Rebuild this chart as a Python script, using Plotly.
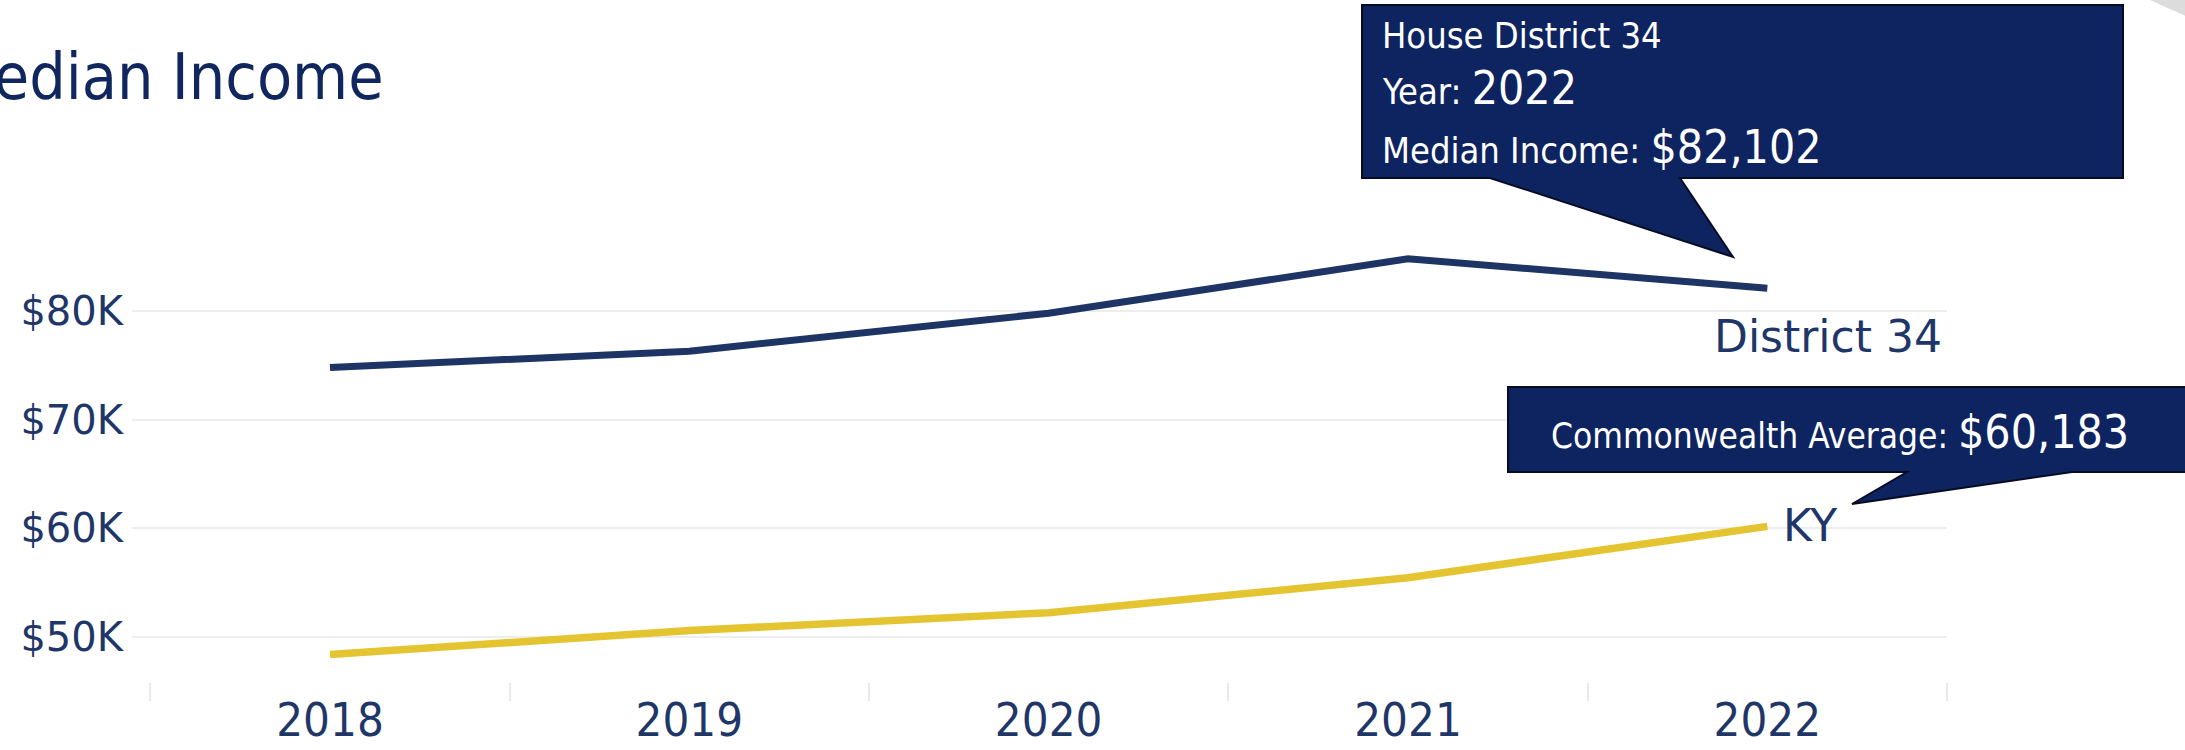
import plotly.graph_objects as go

# ---------------- data ----------------
years = ["2018", "2019", "2020", "2021", "2022"]
district_income = [74800, 76300, 79800, 84800, 82102]
ky_income = [48392, 50589, 52238, 55454, 60183]
y_tick_vals = [50000, 60000, 70000, 80000]
y_tick_text = ["$50K", "$60K", "$70K", "$80K"]
series_labels = ["District 34", "KY"]
title_text = "Median Income"
tooltip_district = ["House District 34", "Year: ", "2022", "Median Income: ", "$82,102"]
tooltip_ky = ["Commonwealth Average: ", "$60,183"]

# ---------------- layout geometry (pixels) ----------------
FIG_W, FIG_H = 2185, 750
L, R, T, B = 132, 1947, 100, 682
W, H = R - L, B - T

def px(x):
    return (x - L) / W

def py(y):
    return (B - y) / H

NAVY_LINE = "#1d3465"
YELLOW = "#e4c531"
TEXT_NAVY = "#1f3668"
TITLE_NAVY = "#10265f"
TIP_FILL = "#0e2461"
TIP_BORDER = "#070c22"
COND = "DejaVu Sans Condensed, DejaVu Sans, sans-serif"
REG = "DejaVu Sans, sans-serif"

fig = go.Figure()
fig.add_trace(go.Scatter(x=years, y=district_income, mode="lines",
                         line=dict(color=NAVY_LINE, width=7), hoverinfo="skip"))
fig.add_trace(go.Scatter(x=years, y=ky_income, mode="lines",
                         line=dict(color=YELLOW, width=7.5), hoverinfo="skip"))

def path(points):
    s = "M " + " L ".join(f"{px(x):.5f},{py(y):.5f}" for x, y in points) + " Z"
    return s

tip1 = [(1362, 5), (2123, 5), (2123, 178), (1680, 178), (1733, 257),
        (1490, 178), (1362, 178)]
tip2 = [(1508, 387), (2195, 387), (2195, 472), (2072, 472), (1852, 504),
        (1907, 472), (1508, 472)]
corner = [(2150, 0), (2190, 0), (2190, 18)]

shapes = [
    dict(type="path", xref="paper", yref="paper", path=path(tip1),
         fillcolor=TIP_FILL, line=dict(color=TIP_BORDER, width=2), layer="above"),
    dict(type="path", xref="paper", yref="paper", path=path(tip2),
         fillcolor=TIP_FILL, line=dict(color=TIP_BORDER, width=2), layer="above"),
    dict(type="path", xref="paper", yref="paper", path=path(corner),
         fillcolor="#dcdcdc", line=dict(width=0), layer="above"),
]

annotations = [
    dict(text=title_text, xref="paper", yref="paper", x=px(386), y=py(77),
         xanchor="right", yanchor="middle", showarrow=False,
         font=dict(family=COND, size=64, color=TITLE_NAVY)),
    dict(text=series_labels[0], xref="paper", yref="paper", x=px(1944), y=py(336),
         xanchor="right", yanchor="middle", showarrow=False,
         font=dict(family=REG, size=44, color=TEXT_NAVY)),
    dict(text=series_labels[1], xref="paper", yref="paper", x=px(1781), y=py(525),
         xanchor="left", yanchor="middle", showarrow=False,
         font=dict(family=REG, size=44, color=TEXT_NAVY)),
    dict(text=tooltip_district[0], xref="paper", yref="paper", x=px(1380), y=py(36),
         xanchor="left", yanchor="middle", showarrow=False,
         font=dict(family=COND, size=36, color="white")),
    dict(text=f"{tooltip_district[1]}<span style='font-size:46px'>{tooltip_district[2]}</span>",
         xref="paper", yref="paper", x=px(1380), y=py(88),
         xanchor="left", yanchor="middle", showarrow=False,
         font=dict(family=COND, size=36, color="white")),
    dict(text=f"{tooltip_district[3]}<span style='font-size:46px'>{tooltip_district[4]}</span>",
         xref="paper", yref="paper", x=px(1380), y=py(147),
         xanchor="left", yanchor="middle", showarrow=False,
         font=dict(family=COND, size=36, color="white")),
    dict(text=f"{tooltip_ky[0]}<span style='font-size:46px'>{tooltip_ky[1]}</span>",
         xref="paper", yref="paper", x=px(1549), y=py(432),
         xanchor="left", yanchor="middle", showarrow=False,
         font=dict(family=COND, size=35, color="white")),
]

fig.update_layout(
    width=FIG_W, height=FIG_H,
    margin=dict(l=L, r=FIG_W - R, t=T, b=FIG_H - B, autoexpand=False),
    paper_bgcolor="white", plot_bgcolor="white",
    showlegend=False,
    shapes=shapes, annotations=annotations,
    xaxis=dict(type="category", categoryorder="array", categoryarray=years,
               range=[-0.551, 4.5], showgrid=False, zeroline=False, showline=False,
               automargin=False,
               ticks="outside", tickson="boundaries", ticklen=18, tickwidth=2,
               tickcolor="#e9e9e9", ticklabelstandoff=6,
               tickfont=dict(family=COND, size=47, color=TEXT_NAVY)),
    yaxis=dict(range=[45859, 99417], tickvals=y_tick_vals, ticktext=y_tick_text,
               showgrid=True, gridcolor="#eeeeee", gridwidth=2, zeroline=False,
               showline=False, ticks="", ticklabelstandoff=8, automargin=False,
               tickfont=dict(family=REG, size=40, color=TEXT_NAVY)),
)

fig.write_html("out.html", config={"displayModeBar": False},
               post_script="document.body.style.margin='0';document.body.style.overflow='hidden';")
